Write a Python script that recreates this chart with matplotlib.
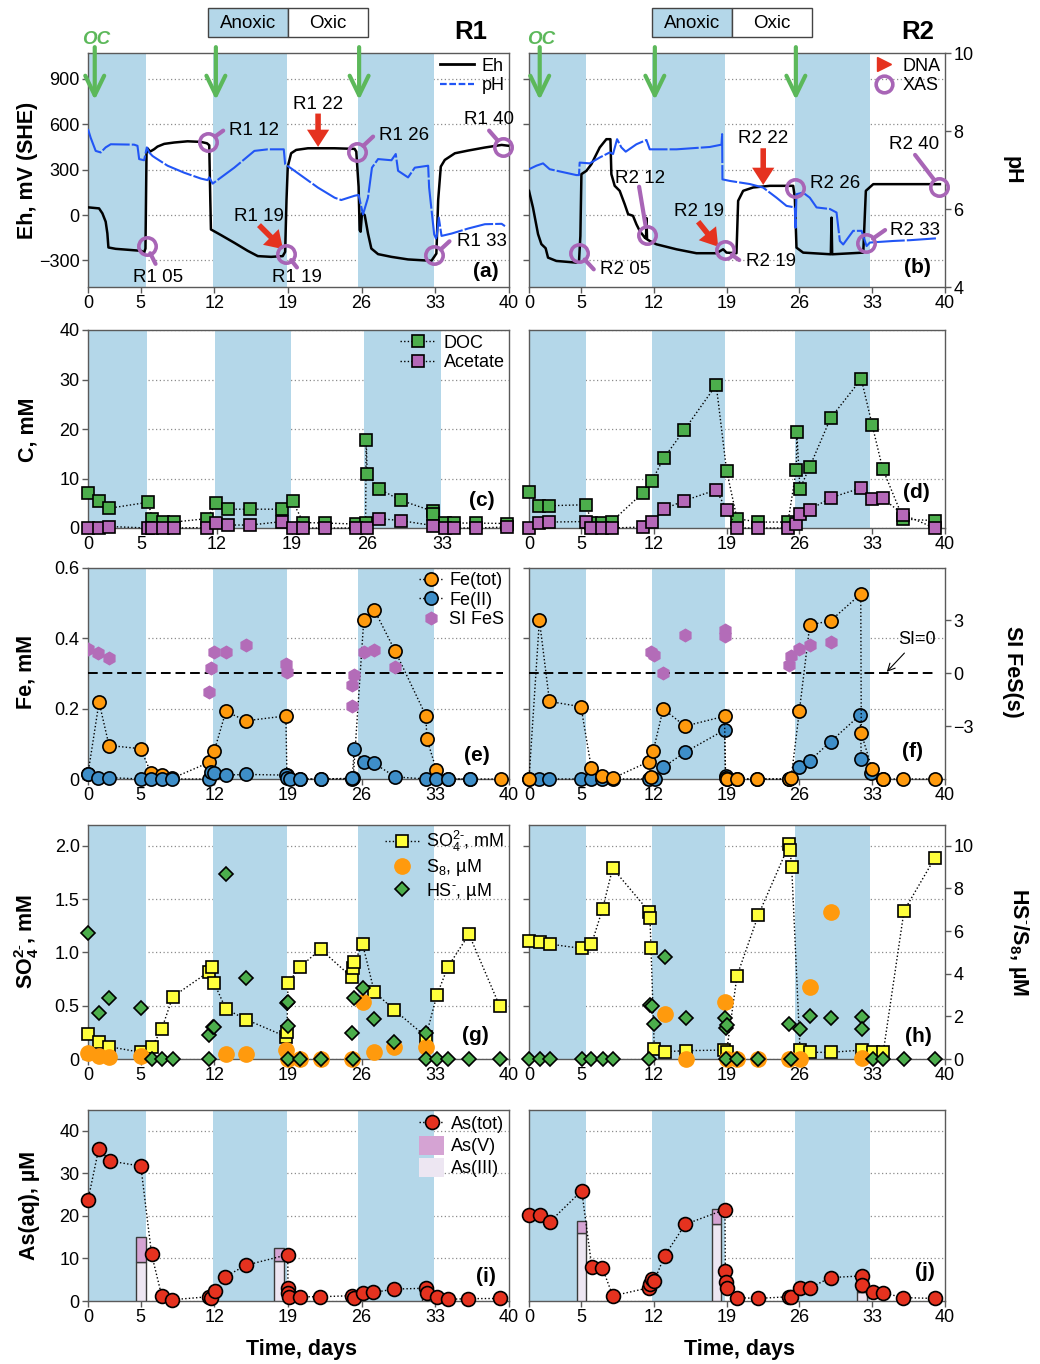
import matplotlib
matplotlib.use('Agg')
import matplotlib.pyplot as plt
from matplotlib.patches import Rectangle, Patch
from matplotlib.lines import Line2D
from matplotlib.transforms import Affine2D

plt.rcParams['font.family'] = ['Liberation Sans', 'DejaVu Sans']
plt.rcParams['mathtext.fontset'] = 'custom'
plt.rcParams['mathtext.rm'] = 'Liberation Sans'
plt.rcParams['mathtext.bf'] = 'Liberation Sans:bold'
plt.rcParams['mathtext.it'] = 'Liberation Sans:italic'
plt.rcParams['mathtext.default'] = 'regular'

# ------------------------------------------------------------------ data
XT = [0, 5, 12, 19, 26, 33, 40]
R1_ANOX = [(0, 5.5), (11.85, 18.9), (25.7, 32.9)]
R2_ANOX = [(0, 5.5), (11.8, 18.8), (25.6, 32.8)]

# Eh / pH traces R1
r1_eh_t = [0, 1.05, 1.37, 1.68, 1.84, 1.94, 2.63, 3.75, 5.02, 5.33, 5.46, 5.56, 5.65, 5.9, 6.29, 6.6, 7.24,
           8.19, 9.46, 10.73, 11.3, 11.52, 11.62, 11.68, 12.63, 13.9, 15.17, 16.13, 17.4, 18.5, 18.73, 18.86,
           18.98, 19.3, 19.78, 20.9, 23.43, 25.33, 25.49, 25.71, 25.81, 25.9, 26.03, 26.29, 26.6, 26.92, 27.56,
           28.83, 30.41, 32.63, 32.89, 33.1, 33.27, 33.52, 33.9, 34.86, 36.13, 37.71, 39.3, 40.0]
r1_eh = [51, 44, 11, -44, -121, -214, -223, -229, -236, -247, -221, 408, 441, 419, 435, 452, 470,
         479, 487, 483, 474, 461, 99, -95, -132, -183, -236, -271, -276, -271, -243, 99,
         320, 408, 430, 441, 441, 437, 419, 187, -99, -110, 11, 0, -121, -221, -258,
         -276, -293, -302, -276, -254, 99, 320, 364, 408, 426, 446, 463, 457]
r1_ph_t = [0, 0.25, 0.73, 1.21, 1.68, 2.16, 4.38, 4.7, 4.86, 5.33, 5.59, 5.81, 6.13, 6.35, 7.56, 9.14, 10.73,
           11.37, 11.52, 11.84, 13.9, 15.81, 17.08, 18.6, 18.73, 19.62, 21.84, 23.43, 24.06, 25.33, 25.71,
           26.13, 26.6, 26.98, 27.56, 28.83, 29.24, 29.46, 30.41, 31.05, 32.32, 32.41, 32.89, 33.1, 33.33,
           33.59, 34.54, 36.13, 37.71, 39.3, 39.62]
r1_ph = [8.05, 7.83, 7.49, 7.45, 7.58, 7.66, 7.65, 7.62, 7.28, 7.25, 7.58, 7.45, 7.36, 7.32, 7.11, 6.93, 6.78,
         6.74, 6.81, 6.65, 7.06, 7.49, 7.53, 7.53, 7.15, 6.98, 6.55, 6.29, 6.23, 6.34, 6.36,
         5.86, 6.29, 7.06, 7.28, 7.25, 7.41, 6.98, 6.81, 7.06, 7.11, 6.55, 5.35, 5.22, 5.78,
         5.31, 5.37, 5.5, 5.61, 5.62, 5.56]
# Eh / pH traces R2
r2_eh_t = [0, 0.38, 0.87, 1.19, 1.6, 1.83, 2.63, 4.55, 4.81, 4.94, 5.04, 5.52, 6.0, 6.48, 6.8, 7.44, 7.83,
           7.92, 8.24, 8.72, 9.2, 9.53, 10.0, 10.33, 10.65, 11.13, 11.25, 11.3, 11.35, 11.61, 12.25, 14.18,
           16.1, 18.02, 18.67, 18.99, 19.95, 20.11, 20.59, 21.55, 23.16, 25.4, 25.56, 25.72, 26.36, 29.02,
           29.09, 29.15, 32.14, 32.39, 33.1, 36.63, 39.51]
r2_eh = [160, 50, -126, -192, -219, -281, -303, -314, -303, -138, 270, 292, 336, 402, 446, 501, 501,
         270, 193, 160, 72, 6, -5, -61, -105, -149, -155, -20, -160, -171, -193, -226,
         -252, -252, -226, -248, -252, 94, 160, 182, 193, 193, 116, -215, -248, -259,
         -17, -259, -248, 160, 204, 204, 204]
r2_ph_t = [0, 0.71, 1.35, 1.99, 4.55, 4.81, 4.87, 5.84, 6.8, 7.76, 8.08, 8.47, 8.88, 9.3, 10.33, 11.29, 11.61,
           14.18, 17.38, 18.51, 18.57, 18.6, 19.31, 20.27, 21.23, 22.51, 23.8, 24.76, 25.56, 25.63, 25.72,
           26.36, 27.0, 27.65, 28.93, 29.57, 29.89, 30.21, 31.17, 31.98, 32.3, 32.46, 32.78, 35.02, 36.63, 39.29]
r2_ph = [7.02, 7.11, 7.17, 7.02, 6.87, 6.87, 7.19, 7.17, 7.32, 7.45, 7.41, 7.79, 7.58, 7.47, 7.66, 7.77, 7.53,
         7.53, 7.59, 7.65, 7.92, 6.76, 6.72, 6.68, 6.64, 6.55, 6.29, 6.08, 6.04, 5.52, 6.38,
         6.42, 6.29, 6.04, 6.0, 5.91, 5.18, 5.09, 5.44, 5.44, 5.18, 5.05, 5.14, 5.18, 5.2, 5.25]

# organic-carbon addition days, XAS and DNA samples
oc_r1 = [0.64, 12.15, 25.76]
oc_r2 = [1.03, 12.1, 25.66]
xas_r1_days = [5.56, 11.42, 18.81, 25.57, 32.92, 39.43]
xas_r1_eh = [-203, 485, -254, 419, -265, 452]
xas_r1_names = ['R1 05', 'R1 12', 'R1 19', 'R1 26', 'R1 33', 'R1 40']
xas_r2_days = [4.81, 11.36, 18.84, 25.57, 32.41, 39.46]
xas_r2_eh = [-253, -132, -231, 177, -187, 188]
xas_r2_names = ['R2 05', 'R2 12', 'R2 19', 'R2 26', 'R2 33', 'R2 40']
dna_r1_days = [18.53, 21.86]
dna_r1_eh = [-225, 450]
dna_r1_names = ['R1 19', 'R1 22']
dna_r2_days = [18.19, 22.52]
dna_r2_eh = [-209, 199]
dna_r2_names = ['R2 19', 'R2 22']

# carbon
r1_c_days = [0, 1, 2, 5.6, 6, 7, 8, 11.1, 11.9, 13, 15.1, 18.1, 19.05, 20.05, 22.1, 25.0, 25.85, 25.9, 26.0,
             27.1, 29.1, 32.1, 32.15, 33.2, 34.1, 36.1, 39.0]
r1_doc = [7.1, 5.4, 4.0, 5.2, 1.8, 1.2, 1.2, 1.9, 5.0, 3.8, 3.8, 3.8, 5.4, 1.1, 1.0, 0.8, 1.0, 17.8, 11.0,
          7.9, 5.6, 3.4, 2.8, 1.1, 1.0, 1.0, 0.9]
r1_ac_days = [0, 1, 2, 5.6, 6, 7, 8, 11.1, 11.9, 13, 15.1, 18.1, 19.05, 20.05, 22.1, 25.0, 25.95, 27.1, 29.1,
              32.1, 33.2, 34.1, 36.1, 39.0]
r1_ac = [0, 0, 0.3, 0, 0, 0, 0, 0.1, 1.0, 0.6, 0.6, 1.3, 0, 0, 0, 0, 0, 1.9, 1.5, 0.5, 0, 0, 0, 0.2]
r2_c_days = [0, 0.97, 1.93, 5.5, 6.0, 7.0, 7.95, 10.95, 11.8, 12.95, 14.9, 18.0, 19.0, 20.0, 22.0, 24.9,
             25.7, 25.75, 26.05, 27.0, 29.0, 31.95, 33.0, 34.0, 36.0, 39.0]
r2_doc = [7.2, 4.4, 4.5, 4.7, 1.1, 1.1, 1.3, 7.1, 9.4, 14.1, 19.7, 28.9, 11.6, 1.9, 1.2, 1.2,
          11.8, 19.4, 7.9, 12.4, 22.2, 30.1, 20.8, 12.0, 1.8, 1.5]
r2_ac_days = [0, 0.97, 1.93, 5.5, 6.0, 7.0, 7.95, 10.95, 11.8, 12.95, 14.9, 18.0, 19.0, 20.0, 22.0, 24.9,
              25.7, 26.05, 27.0, 29.0, 31.95, 33.0, 34.0, 36.0, 39.0]
r2_ac = [0, 1.0, 1.2, 1.3, 0, 0, 0, 0.2, 1.2, 3.8, 5.5, 7.7, 3.6, 0, 0, 0, 0.8, 2.8, 3.7, 6.1, 8.1, 5.8,
         6.0, 2.7, 0]

# iron
r1_fe_days = [0, 1.05, 2.0, 5.0, 6.0, 7.0, 8.0, 11.5, 12.0, 13.1, 15.0, 18.8, 18.9, 20.1, 22.1, 25.1, 25.2,
              26.2, 27.2, 29.2, 32.1, 32.2, 33.1, 34.2, 36.3, 39.2]
r1_fetot = [0.015, 0.218, 0.095, 0.086, 0.016, 0.01, 0.002, 0.047, 0.08, 0.192, 0.165, 0.179, 0.01, 0, 0,
            0, 0.004, 0.45, 0.48, 0.362, 0.18, 0.113, 0.026, 0, 0, 0]
r1_fe2_days = [0, 0.96, 2.0, 5.0, 6.0, 7.0, 8.0, 11.5, 11.7, 12.0, 13.1, 15.0, 18.8, 18.9, 19.2, 20.1, 22.1,
               25.1, 25.3, 26.2, 27.2, 29.2, 32.1, 33.1, 34.2, 36.3]
r1_fe2 = [0.013, 0.002, 0.004, 0, 0, 0, 0, 0, 0.019, 0.016, 0.011, 0.013, 0.011, 0.004, 0, 0, 0,
          0.002, 0.085, 0.049, 0.044, 0.006, 0, 0, 0, 0]
r1_si_days = [0, 0.96, 2.0, 11.5, 11.7, 12.0, 13.1, 15.0, 18.8, 18.9, 25.1, 25.1, 25.3, 26.2, 27.2, 29.2]
r1_si = [1.39, 1.14, 0.89, -1.04, 0.32, 1.18, 1.23, 1.61, 0.53, 0.06, -1.84, -0.66, -0.09, 1.23, 1.33, 0.34]
r2_fe_days = [0, 1.0, 1.97, 5.0, 6.0, 7.0, 8.05, 11.5, 11.7, 11.95, 12.9, 15.0, 18.8, 18.9, 19.0, 20.0, 21.9,
              25.0, 25.2, 26.0, 27.0, 29.0, 31.9, 31.95, 33.0, 34.0, 36.0, 39.0]
r2_fetot = [0, 0.451, 0.22, 0.205, 0.03, 0.009, 0.002, 0.049, 0.007, 0.08, 0.199, 0.15, 0.178, 0.004, 0, 0,
            0, 0, 0.002, 0.194, 0.437, 0.449, 0.525, 0.13, 0.027, 0, 0, 0]
r2_fe2_days = [0, 1.0, 1.97, 5.0, 6.0, 7.0, 8.05, 11.5, 12.1, 12.9, 15.0, 18.8, 18.9, 19.0, 20.0, 21.9, 25.0,
               26.0, 27.0, 29.0, 31.85, 31.95, 32.9, 34.0]
r2_fe2 = [0, 0, 0, 0, 0, 0, 0, 0, 0, 0.033, 0.076, 0.139, 0.008, 0, 0, 0, 0, 0.033, 0.052, 0.106, 0.182,
          0.057, 0.018, 0]
r2_si_days = [11.7, 12.0, 12.9, 15.0, 18.8, 18.8, 25.0, 25.2, 26.0, 27.0, 29.0]
r2_si = [1.23, 1.04, 0.0, 2.15, 2.47, 2.09, 0.47, 1.0, 1.37, 1.61, 1.8]

# sulfur
r1_so4_days = [0, 1.0, 2.0, 5.0, 6.05, 7.0, 8.05, 11.5, 11.75, 12.0, 13.1, 15.05, 18.8, 18.9, 19.0, 20.1,
               22.1, 25.07, 25.16, 25.3, 26.1, 27.2, 29.1, 32.1, 33.15, 34.2, 36.2, 39.1]
r1_so4 = [0.234, 0.156, 0.116, 0.063, 0.109, 0.28, 0.584, 0.82, 0.866, 0.71, 0.469, 0.369, 0.21, 0.256,
          0.71, 0.86, 1.03, 0.766, 0.85, 0.91, 1.075, 0.63, 0.46, 0.21, 0.6, 0.866, 1.17, 0.5]
r1_s8_days = [0, 1.0, 2.0, 5.0, 13.1, 15.05, 18.8, 19.0, 20.1, 22.1, 25.1, 26.1, 27.2, 29.1, 32.1]
r1_s8 = [0.27, 0.16, 0.11, 0.16, 0.25, 0.22, 0.42, 0, 0, 0, 0, 2.69, 0.31, 0.55, 0.58]
r1_hs_days = [0, 1.0, 2.0, 5.0, 6.05, 7.0, 8.05, 11.5, 11.5, 11.85, 12.0, 13.1, 15.05, 18.9, 19.0, 19.0,
              19.0, 20.1, 22.1, 25.1, 25.2, 25.3, 26.1, 27.2, 29.1, 32.1, 32.1, 33.15, 34.2, 36.2, 39.1]
r1_hs = [5.89, 2.14, 2.875, 2.375, 0, 0, 0, 0, 1.125, 1.52, 1.52, 8.66, 3.81, 2.61, 2.69, 1.56, 0, 0, 0,
         1.2, 0, 2.84, 3.34, 1.875, 0.78, 1.2, 0, 0, 0, 0, 0]
r2_so4_days = [0, 1.06, 2.0, 5.06, 6.0, 7.08, 8.04, 11.57, 11.63, 11.73, 12.05, 13.08, 15.06, 18.78, 19.0,
               20.0, 22.05, 25.03, 25.1, 25.26, 26.06, 27.0, 29.0, 32.05, 33.04, 34.07, 36.06, 39.04]
r2_so4 = [1.11, 1.094, 1.078, 1.0375, 1.075, 1.41, 1.79, 1.38, 1.325, 1.04, 0.09, 0.069, 0.078, 0.084,
          0.069, 0.78, 1.35, 2.016, 1.96, 1.8, 0.084, 0.0625, 0.0625, 0.084, 0.069, 0.069, 1.39, 1.89]
r2_s8_days = [13.08, 15.06, 18.85, 19.0, 20.0, 22.0, 25.03, 26.06, 27.0, 29.0, 32.05]
r2_s8 = [2.11, 0, 2.66, 0, 0, 0, 0, 0, 3.36, 6.9, 0.06]
r2_hs_days = [0, 1.06, 2.0, 5.06, 6.0, 7.08, 8.04, 11.57, 11.63, 11.8, 12.0, 13.08, 15.06, 18.85, 18.9,
              19.0, 18.9, 20.0, 22.05, 25.03, 25.2, 26.06, 27.0, 29.0, 32.05, 32.05, 33.04, 34.07, 36.06, 39.04]
r2_hs = [0, 0, 0, 0, 0, 0, 0, 0, 2.53, 2.5, 1.625, 4.8, 1.9, 1.9, 1.44, 1.6, 0, 0, 0, 1.64, 0, 1.41, 2.03,
         1.9, 1.98, 1.41, 0, 0, 0, 0]

# arsenic
r1_as_days = [0, 1.02, 2.07, 5.02, 6.04, 7.0, 8.0, 11.45, 11.67, 12.02, 13.04, 15.0, 18.98, 19.0, 19.0, 19.08,
              20.1, 22.03, 25.1, 25.3, 26.1, 27.1, 29.1, 32.1, 32.2, 33.2, 34.2, 36.15, 39.1]
r1_as = [23.7, 35.8, 32.9, 31.7, 11.0, 1.25, 0.3, 1.0, 0.8, 2.4, 5.7, 8.4, 10.9, 3.0, 1.8, 0.86, 1.0, 1.0,
         1.25, 0.6, 1.8, 2.0, 2.8, 3.0, 1.95, 0.86, 0.4, 0.55, 0.6]
r1_bar_days = [5.0, 18.12, 32.2]
r1_as3 = [9.2, 9.4, 1.3]
r1_as5 = [5.9, 3.1, 0.7]
r2_as_days = [0, 1.06, 2.0, 5.07, 6.04, 7.06, 8.06, 11.5, 11.65, 11.8, 12.04, 13.03, 15.02, 18.84, 18.88,
              18.97, 19.04, 20.0, 22.0, 24.98, 25.2, 26.04, 27.0, 29.0, 32.04, 32.04, 33.07, 34.03, 36.0, 39.0]
r2_as = [20.2, 20.2, 18.6, 25.9, 8.0, 7.7, 1.2, 3.1, 4.1, 5.1, 4.7, 10.6, 18.0, 21.5, 7.0, 4.4, 3.0, 0.8,
         0.6, 1.0, 1.0, 3.0, 3.1, 5.5, 5.9, 3.75, 2.2, 1.9, 0.8, 0.6]
r2_bar_days = [5.05, 18.04, 32.02]
r2_as3 = [16.0, 18.0, 2.2]
r2_as5 = [2.8, 3.7, 0.6]

# ------------------------------------------------------------------ style
SHADE = '#b4d7e9'
GREEN_OC = '#5cb85a'
GREEN = '#4cae4c'
PURP = '#a865b6'
ACET = '#b568b8'
SIC = '#b36cb8'
ORANGE = '#ff9a0d'
FE2C = '#3e8ec8'
YELLOW = '#ffff3c'
RED = '#e5321f'
AS5C = '#d5a3d3'
AS3C = '#ede6f2'
PHBLUE = '#2155f5'
SPC = '#5a5a5a'
DOT = (0, (1, 1.6))
PHLS = (0, (14, 1))
TS = 13
LS = 15.5

W, H = 1040, 1364
fig = plt.figure(figsize=(W / 100, H / 100), dpi=100)
PIX = Affine2D().scale(1.0 / W, -1.0 / H).translate(0, 1) + fig.transFigure
COLS = [(88, 509), (529, 945)]
ROWS = [(53, 287), (330, 528), (567.5, 779), (824.5, 1059), (1109.5, 1301)]


def mk(col, row):
    x0, x1 = COLS[col]
    yt, yb = ROWS[row]
    return fig.add_axes([x0 / W, 1 - yb / H, (x1 - x0) / W, (yb - yt) / H])


def style(ax, anox, ylim, yt, ytl=None, xlim=(0, 40), xt=XT, left=True):
    ax.set_xlim(*xlim)
    ax.set_ylim(*ylim)
    ax.set_xticks(xt)
    ax.set_yticks(yt)
    if ytl is not None:
        ax.set_yticklabels(ytl)
    for a, b in anox:
        ax.axvspan(a, b, color=SHADE, lw=0, zorder=1)
    ax.set_axisbelow(True)
    ax.yaxis.grid(True, ls=(0, (1, 2)), color='#8c8c8c', lw=0.9)
    for s in ax.spines.values():
        s.set_color(SPC)
        s.set_linewidth(1.0)
    ax.tick_params(direction='out', length=4, width=1, colors=SPC, labelcolor='k', labelsize=TS, pad=2)
    if not left:
        ax.tick_params(axis='y', left=False, labelleft=False)


def twin(ax, ylim, ticks=None, ticklabels=None):
    t = ax.twinx()
    t.set_ylim(*ylim)
    for s in t.spines.values():
        s.set_visible(False)
    if ticks is None:
        t.tick_params(axis='y', right=False, labelright=False)
    else:
        t.set_yticks(ticks)
        if ticklabels is not None:
            t.set_yticklabels(ticklabels)
        t.tick_params(axis='y', direction='out', length=4, width=1, colors=SPC, labelcolor='k',
                      labelsize=TS, pad=2)
    return t


def series(ax, x, y, marker, fc, ms, ls=DOT, mec='k', mew=1.2, z=4):
    ax.plot(x, y, ls=ls, color='k', lw=1.0, marker=marker, mfc=fc, mec=mec, mew=mew, ms=ms,
            clip_on=False, zorder=z)


def panel_label(ax, s, x, y):
    ax.text(x, y, s, transform=ax.transAxes, ha='right', va='center', fontsize=15, fontweight='bold',
            zorder=10)


def oc_arrows(ax, days, label_dx):
    for d in days:
        ax.annotate('', xy=(d, 760), xycoords='data', xytext=(d, 1.025),
                    textcoords=ax.get_xaxis_transform(),
                    arrowprops=dict(arrowstyle='->,head_length=0.7,head_width=0.34', color=GREEN_OC, lw=3,
                                    mutation_scale=20, shrinkA=0, shrinkB=0),
                    annotation_clip=False, zorder=8)
    ax.text(days[0] + label_dx, 1.058, 'OC', transform=ax.get_xaxis_transform(), ha='center', va='center',
            color=GREEN_OC, fontsize=13.5, fontweight='bold', style='italic')


def xas(axdraw, axdata, days, vals, names, handles, labels):
    for d, v, nm, hd, lb in zip(days, vals, names, handles, labels):
        if hd is not None:
            axdraw.annotate('', xy=(d, v), xycoords=axdata.transData, xytext=hd, textcoords='offset points',
                            arrowprops=dict(arrowstyle='-', color=PURP, lw=3, shrinkA=0, shrinkB=6),
                            annotation_clip=False)
        axdraw.annotate(nm, xy=(d, v), xycoords=axdata.transData, xytext=(lb[0], lb[1]),
                        textcoords='offset points', ha=lb[2], va='center', fontsize=13.5,
                        annotation_clip=False)
    axdraw.plot(days, vals, 'o', transform=axdata.transData, mfc='none', mec=PURP, mew=2.6, ms=12.5,
                clip_on=False, zorder=6)


def dna(axdraw, axdata, days, vals, names, tails, labs):
    for d, v, nm, tl, lb in zip(days, vals, names, tails, labs):
        axdraw.annotate('', xy=(d, v), xycoords=axdata.transData, xytext=tl, textcoords='offset points',
                        arrowprops=dict(arrowstyle='simple,head_length=0.62,head_width=0.8,tail_width=0.2',
                                        mutation_scale=20, color=RED, lw=0, shrinkA=0, shrinkB=0),
                        annotation_clip=False)
        axdraw.annotate(nm, xy=(d, v), xycoords=axdata.transData, xytext=lb, textcoords='offset points',
                        ha='center', va='center', fontsize=13.5, annotation_clip=False)


LEGKW = dict(frameon=False, fontsize=13, handletextpad=0.4, labelspacing=0.15, borderaxespad=0.15,
             borderpad=0.1)

# ------------------------------------------------------------------ (a)
ax = mk(0, 0)
style(ax, R1_ANOX, (-475, 1070), [-300, 0, 300, 600, 900])
ax.plot(r1_eh_t, r1_eh, color='k', lw=1.8, zorder=3)
tp = twin(ax, (4, 10))
tp.plot(r1_ph_t, r1_ph, color=PHBLUE, lw=1.5, ls=PHLS, zorder=3)
oc_arrows(ax, oc_r1, 0.1)
xas(tp, ax, xas_r1_days, xas_r1_eh, xas_r1_names,
    [(6.5, -13), (10.8, 7.9), (7.9, -10), (11.5, 10.8), (10.8, 10), (-10, 11.5)],
    [(8, -22.5, 'center'), (15, 7.7, 'left'), (8, -17, 'center'), (16, 11.5, 'left'), (16, 10, 'left'),
     (-10, 19.5, 'center')])
dna(tp, ax, dna_r1_days, dna_r1_eh, dna_r1_names, [(-17.3, 17.3), (0, 24)], [(-17.3, 23.8), (0, 30.5)])
tp.legend([Line2D([], [], color='k', lw=2), Line2D([], [], color=PHBLUE, lw=1.6, ls=(0, (3, 1.2)))],
          ['Eh', 'pH'], loc='upper right', handlelength=1.9, **LEGKW)
panel_label(ax, '(a)', 0.975, 0.065)

# ------------------------------------------------------------------ (b)
ax = mk(1, 0)
style(ax, R2_ANOX, (-475, 1070), [-300, 0, 300, 600, 900], left=False)
ax.plot(r2_eh_t, r2_eh, color='k', lw=1.8, zorder=3)
tp = twin(ax, (4, 10), [4, 6, 8, 10])
tp.plot(r2_ph_t, r2_ph, color=PHBLUE, lw=1.5, ls=PHLS, zorder=3)
oc_arrows(ax, oc_r2, 0.1)
xas(tp, ax, xas_r2_days, xas_r2_eh, xas_r2_names,
    [(10.6, -11.5), (-5.8, 34.8), (10.3, -7.2), None, (13.7, 9.6), (-17.5, 22.8)],
    [(15, -11.5, 'left'), (-4.9, 40.8, 'center'), (15, -8, 'left'), (10.8, 3.6, 'left'),
     (17.3, 9.4, 'left'), (-18.4, 30, 'center')])
dna(tp, ax, dna_r2_days, dna_r2_eh, dna_r2_names, [(-14.4, 18), (0, 26.4)], [(-14.1, 25.2), (0, 33.6)])
tp.legend([Line2D([], [], marker='>', color=RED, ls='none', ms=10),
           Line2D([], [], marker='o', mfc='none', mec=PURP, mew=2.6, ms=12, ls='none')],
          ['DNA', 'XAS'], loc='upper right', handlelength=1.2, **LEGKW)
panel_label(ax, '(b)', 0.966, 0.085)

# ------------------------------------------------------------------ (c)
ax = mk(0, 1)
style(ax, R1_ANOX, (0, 40), [0, 10, 20, 30, 40], xlim=(0, 39.2), xt=XT[:-1])
series(ax, r1_c_days, r1_doc, 's', GREEN, 8.5)
series(ax, r1_ac_days, r1_ac, 's', ACET, 8.5)
ax.legend([Line2D([], [], ls=DOT, color='k', lw=1, marker='s', mfc=GREEN, mec='k', mew=1.2, ms=8.5),
           Line2D([], [], ls=DOT, color='k', lw=1, marker='s', mfc=ACET, mec='k', mew=1.2, ms=8.5)],
          ['DOC', 'Acetate'], loc='upper right', handlelength=2.0, **LEGKW)
panel_label(ax, '(c)', 0.966, 0.14)

# ------------------------------------------------------------------ (d)
ax = mk(1, 1)
style(ax, R2_ANOX, (0, 40), [0, 10, 20, 30, 40], left=False)
series(ax, r2_c_days, r2_doc, 's', GREEN, 8.5)
series(ax, r2_ac_days, r2_ac, 's', ACET, 8.5)
panel_label(ax, '(d)', 0.964, 0.18)

# ------------------------------------------------------------------ (e)
ax = mk(0, 2)
style(ax, R1_ANOX, (0, 0.6), [0, 0.2, 0.4, 0.6], ['0', '0.2', '0.4', '0.6'])
ts = twin(ax, (-6, 6))
ts.axhline(0, xmin=0, xmax=0.985, color='k', ls=(0, (5, 2.5)), lw=1.4, zorder=2)
series(ax, r1_fe_days, r1_fetot, 'o', ORANGE, 9.5)
series(ax, r1_fe2_days, r1_fe2, 'o', FE2C, 9.5)
ts.plot(r1_si_days, r1_si, 'h', color=SIC, ms=9, ls='none', zorder=4)
ax.legend([Line2D([], [], ls=DOT, color='k', lw=1, marker='o', mfc=ORANGE, mec='k', mew=1.2, ms=9.5),
           Line2D([], [], ls=DOT, color='k', lw=1, marker='o', mfc=FE2C, mec='k', mew=1.2, ms=9.5),
           Line2D([], [], ls='none', marker='h', color=SIC, ms=9)],
          ['Fe(tot)', 'Fe(II)', 'SI FeS'], loc='upper right', handlelength=1.3, **LEGKW)
panel_label(ax, '(e)', 0.955, 0.11)

# ------------------------------------------------------------------ (f)
ax = mk(1, 2)
style(ax, R2_ANOX, (0, 0.6), [0, 0.2, 0.4, 0.6], left=False)
ts = twin(ax, (-6, 6), [-3, 0, 3], ['\u22123', '0', '3'])
ts.axhline(0, xmin=0, xmax=0.975, color='k', ls=(0, (5, 2.5)), lw=1.4, zorder=2)
series(ax, r2_fe2_days, r2_fe2, 'o', FE2C, 9.5)
series(ax, r2_fe_days, r2_fetot, 'o', ORANGE, 9.5)
ts.plot(r2_si_days, r2_si, 'h', color=SIC, ms=9, ls='none', zorder=4)
ts.annotate('SI=0', xy=(34.4, 0.08), xytext=(37.3, 1.9), ha='center', va='center', fontsize=13,
            arrowprops=dict(arrowstyle='->', color='k', lw=0.8, shrinkA=2, shrinkB=0))
panel_label(ax, '(f)', 0.948, 0.13)

# ------------------------------------------------------------------ (g)
ax = mk(0, 3)
style(ax, R1_ANOX, (0, 2.2), [0, 0.5, 1.0, 1.5, 2.0], ['0', '0.5', '1.0', '1.5', '2.0'])
tu = twin(ax, (0, 11))
series(ax, r1_so4_days, r1_so4, 's', YELLOW, 9)
tu.plot(r1_s8_days, r1_s8, 'o', color=ORANGE, ms=11, ls='none', clip_on=False, zorder=4)
tu.plot(r1_hs_days, r1_hs, 'D', mfc=GREEN, mec='k', mew=1.2, ms=7.5, ls='none', clip_on=False, zorder=5)
ax.legend([Line2D([], [], ls=DOT, color='k', lw=1, marker='s', mfc=YELLOW, mec='k', mew=1.2, ms=9),
           Line2D([], [], ls='none', marker='o', color=ORANGE, ms=11),
           Line2D([], [], ls='none', marker='D', mfc=GREEN, mec='k', mew=1.2, ms=7.5)],
          ['SO$_4^{2\u2010}$, mM', 'S$_8$, \u00b5M', 'HS$^{\u2010}$, \u00b5M'], loc='upper right',
          handlelength=1.9, **LEGKW)
panel_label(ax, '(g)', 0.951, 0.10)

# ------------------------------------------------------------------ (h)
ax = mk(1, 3)
style(ax, R2_ANOX, (0, 2.2), [0, 0.5, 1.0, 1.5, 2.0], left=False)
tu = twin(ax, (0, 11), [0, 2, 4, 6, 8, 10])
series(ax, r2_so4_days, r2_so4, 's', YELLOW, 9)
tu.plot(r2_s8_days, r2_s8, 'o', color=ORANGE, ms=11, ls='none', clip_on=False, zorder=4)
tu.plot(r2_hs_days, r2_hs, 'D', mfc=GREEN, mec='k', mew=1.2, ms=7.5, ls='none', clip_on=False, zorder=5)
panel_label(ax, '(h)', 0.967, 0.095)

# ------------------------------------------------------------------ (i)
ax = mk(0, 4)
style(ax, R1_ANOX, (0, 45), [0, 10, 20, 30, 40])
ax.bar(r1_bar_days, r1_as3, width=0.95, color=AS3C, edgecolor='#3a3a3a', lw=1.0, zorder=3)
ax.bar(r1_bar_days, r1_as5, width=0.95, bottom=r1_as3, color=AS5C, edgecolor='#3a3a3a', lw=1.0, zorder=3)
series(ax, r1_as_days, r1_as, 'o', RED, 10)
ax.legend([Line2D([], [], ls=DOT, color='k', lw=1, marker='o', mfc=RED, mec='k', mew=1.2, ms=10),
           Patch(facecolor=AS5C, edgecolor='none'), Patch(facecolor=AS3C, edgecolor='none')],
          ['As(tot)', 'As(V)', 'As(III)'], loc='upper right', handlelength=1.4, handleheight=1.2, **LEGKW)
panel_label(ax, '(i)', 0.97, 0.127)

# ------------------------------------------------------------------ (j)
ax = mk(1, 4)
style(ax, R2_ANOX, (0, 45), [0, 10, 20, 30, 40], left=False)
ax.bar(r2_bar_days, r2_as3, width=0.9, color=AS3C, edgecolor='#3a3a3a', lw=1.0, zorder=3)
ax.bar(r2_bar_days, r2_as5, width=0.9, bottom=r2_as3, color=AS5C, edgecolor='#3a3a3a', lw=1.0, zorder=3)
series(ax, r2_as_days, r2_as, 'o', RED, 10)
panel_label(ax, '(j)', 0.975, 0.153)

# ------------------------------------------------------------------ labels & header
def ftext(x, y, s, **kw):
    fig.text(x, y, s, transform=PIX, ha='center', va='center', **kw)

ftext(27, 170, 'Eh, mV (SHE)', rotation=90, fontsize=LS, fontweight='bold')
ftext(28, 430, 'C, mM', rotation=90, fontsize=LS, fontweight='bold')
ftext(26, 672, 'Fe, mM', rotation=90, fontsize=LS, fontweight='bold')
ftext(27, 942, r'$\mathbf{SO_4^{2\text{-}}}$, mM', rotation=90, fontsize=LS, fontweight='bold')
ftext(29, 1205, 'As(aq), \u00b5M', rotation=90, fontsize=LS, fontweight='bold')
ftext(1012, 170, 'pH', rotation=270, fontsize=LS, fontweight='bold')
ftext(1012, 672, 'SI FeS(s)', rotation=270, fontsize=LS, fontweight='bold')
ftext(1018, 942, '$\\mathbf{HS^{\\text{-}}/S_8}$, \u00b5M', rotation=270, fontsize=LS, fontweight='bold')
ftext(301, 1350, 'Time, days', fontsize=LS, fontweight='bold')
ftext(740, 1350, 'Time, days', fontsize=LS, fontweight='bold')

for (x0, lab) in [(208, 'R1'), (652, 'R2')]:
    fig.add_artist(Rectangle((x0, 8), 80, 29, transform=PIX, facecolor=SHADE, edgecolor='#444444', lw=1.0))
    fig.add_artist(Rectangle((x0 + 80, 8), 80, 29, transform=PIX, facecolor='white', edgecolor='#444444',
                             lw=1.0))
    ftext(x0 + 40, 23, 'Anoxic', fontsize=13.5)
    ftext(x0 + 120, 23, 'Oxic', fontsize=13.5)
ftext(471, 32, 'R1', fontsize=18.5, fontweight='bold')
ftext(918, 32, 'R2', fontsize=18.5, fontweight='bold')

fig.savefig('out.png', dpi=100)
